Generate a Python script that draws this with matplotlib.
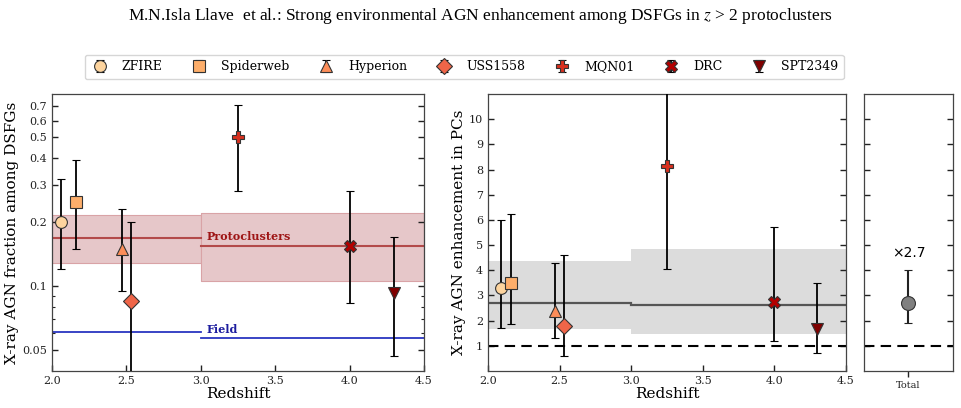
import matplotlib
matplotlib.use("Agg")
import matplotlib.pyplot as plt
from matplotlib.ticker import FixedLocator, FixedFormatter, NullFormatter

plt.rcParams['font.family'] = ['DejaVu Serif']
plt.rcParams['mathtext.fontset'] = 'stix'

names = ['ZFIRE', 'Spiderweb', 'Hyperion', 'USS1558', 'MQN01', 'DRC', 'SPT2349']
markers = ['o', 's', '^', 'D', 'P', 'X', 'v']
colors = ['#fdd49e', '#fdae6b', '#fc8d59', '#ef6548', '#d7301f', '#b30000', '#7f0000']

# left panel: AGN fraction
z_frac = [2.06, 2.16, 2.47, 2.53, 3.25, 4.00, 4.30]
frac = [0.20, 0.25, 0.150, 0.085, 0.50, 0.155, 0.093]
frac_lo = [0.120, 0.150, 0.095, 0.030, 0.280, 0.083, 0.047]
frac_hi = [0.320, 0.390, 0.230, 0.200, 0.710, 0.280, 0.170]

# middle panel: enhancement
z_enh = [2.09, 2.16, 2.47, 2.53, 3.25, 4.00, 4.30]
enh = [3.30, 3.50, 2.40, 1.80, 8.15, 2.72, 1.65]
enh_lo = [1.70, 1.85, 1.30, 0.60, 4.05, 1.20, 0.72]
enh_hi = [6.00, 6.25, 4.30, 4.60, 12.0, 5.70, 3.50]

# bins
bin_edges = [(2.0, 3.0), (3.0, 4.5)]
pc_frac = [0.168, 0.154]
pc_frac_lo = [0.128, 0.106]
pc_frac_hi = [0.217, 0.220]
field_frac = [0.0612, 0.0574]
bin_enh = [2.68, 2.63]
bin_enh_lo = [1.68, 1.45]
bin_enh_hi = [4.35, 4.85]

total_val = 2.7
total_lo = 1.9
total_hi = 4.0

fig = plt.figure(figsize=(9.61, 4.08), dpi=100)
ax1 = fig.add_axes([0.0541, 0.0907, 0.3871, 0.679])
ax2 = fig.add_axes([0.5078, 0.0907, 0.3725, 0.679])
ax3 = fig.add_axes([0.899, 0.0907, 0.0926, 0.679])

fig.text(0.5, 0.962, 'M.N.Isla Llave  et al.: Strong environmental AGN enhancement among DSFGs in $z$ > 2 protoclusters',
         ha='center', va='center', fontsize=12.5, family='Liberation Serif')

# --- left panel
for (x0, x1), v, lo, hi, f in zip(bin_edges, pc_frac, pc_frac_lo, pc_frac_hi, field_frac):
    ax1.fill_between([x0, x1], [lo, lo], [hi, hi], facecolor='#e6c7c9', edgecolor='#d9a3a6', lw=0.8, zorder=1)
    ax1.plot([x0, x1], [v, v], color='#b34a4a', lw=1.5, zorder=2)
    ax1.plot([x0, x1], [f, f], color='#2a35c0', lw=1.3, zorder=2)
ax1.text(3.04, 0.171, 'Protoclusters', color='#9e1515', fontweight='bold', fontsize=8, va='center')
ax1.text(3.04, 0.0625, 'Field', color='#1c1c9e', fontweight='bold', fontsize=8, va='center')

handles = []
for i in range(len(names)):
    h = ax1.errorbar(z_frac[i], frac[i],
                     yerr=[[frac[i] - frac_lo[i]], [frac_hi[i] - frac[i]]],
                     fmt=markers[i], ms=8.5, mfc=colors[i], mec='#333333', mew=0.8,
                     ecolor='black', elinewidth=1.3, capsize=3, capthick=1, zorder=5, label=names[i])
    handles.append(h)

ax1.set_yscale('log')
ax1.set_xlim(2.0, 4.5)
ax1.set_ylim(0.04, 0.8)
major = [0.05, 0.1, 0.2, 0.3, 0.4, 0.5, 0.6, 0.7]
ax1.yaxis.set_major_locator(FixedLocator(major))
ax1.yaxis.set_major_formatter(FixedFormatter(['0.05', '0.1', '0.2', '0.3', '0.4', '0.5', '0.6', '0.7']))
ax1.yaxis.set_minor_locator(FixedLocator([0.06, 0.07, 0.08, 0.09]))
ax1.yaxis.set_minor_formatter(NullFormatter())
ax1.set_xticks([2.0, 2.5, 3.0, 3.5, 4.0, 4.5])
ax1.set_xlabel('Redshift', fontsize=11, labelpad=1)
ax1.set_ylabel('X-ray AGN fraction among DSFGs', fontsize=11, labelpad=2)

# --- middle panel
for (x0, x1), v, lo, hi in zip(bin_edges, bin_enh, bin_enh_lo, bin_enh_hi):
    ax2.fill_between([x0, x1], [lo, lo], [hi, hi], facecolor='#dcdcdc', edgecolor='none', zorder=1)
    ax2.plot([x0, x1], [v, v], color='#555555', lw=1.6, zorder=2)
ax2.axhline(1, color='black', ls=(0, (5, 3)), lw=1.5, zorder=2)
for i in range(len(names)):
    ax2.errorbar(z_enh[i], enh[i],
                 yerr=[[enh[i] - enh_lo[i]], [enh_hi[i] - enh[i]]],
                 fmt=markers[i], ms=8.5, mfc=colors[i], mec='#333333', mew=0.8,
                 ecolor='black', elinewidth=1.3, capsize=3, capthick=1, zorder=5)
ax2.set_xlim(2.0, 4.5)
ax2.set_ylim(0, 11)
ax2.set_yticks(range(1, 11))
ax2.set_xticks([2.0, 2.5, 3.0, 3.5, 4.0, 4.5])
ax2.set_xlabel('Redshift', fontsize=11, labelpad=1)
ax2.set_ylabel('X-ray AGN enhancement in PCs', fontsize=11, labelpad=2)

# --- right panel
ax3.axhline(1, color='black', ls=(0, (5, 3)), lw=1.5, zorder=2)
ax3.errorbar([0], [total_val], yerr=[[total_val - total_lo], [total_hi - total_val]],
             fmt='o', ms=10, mfc='#808080', mec='#333333', mew=0.8,
             ecolor='#222222', elinewidth=1.5, capsize=3, capthick=1, zorder=5)
ax3.text(0, total_hi + 0.7, '\u00d7' + str(total_val), ha='center', va='center', fontsize=10, family='DejaVu Sans')
ax3.set_xlim(-1, 1)
ax3.set_ylim(0, 11)
ax3.set_yticks(range(1, 11))
ax3.set_yticklabels([])
ax3.set_xticks([0])
ax3.set_xticklabels(['Total'], fontsize=7)

for ax in (ax1, ax2, ax3):
    ax.tick_params(which='both', direction='in', left=True, right=True, top=False, bottom=True, labelsize=8, colors='#222222')
    ax.tick_params(which='major', length=4.5, width=1)
    ax.tick_params(which='minor', length=2.5, width=0.8)
    for s in ax.spines.values():
        s.set_color('#444444')
        s.set_linewidth(0.9)
ax3.tick_params(axis='x', direction='out', length=4, labelsize=7)

fig.legend(handles=handles, labels=names, loc='center', bbox_to_anchor=(0.483, 0.836), ncol=7,
           fontsize=9, frameon=True, fancybox=True, edgecolor='#cccccc', columnspacing=2.2,
           handletextpad=1.0, borderpad=0.45, handlelength=1.5)

fig.savefig('out.png', dpi=100)
